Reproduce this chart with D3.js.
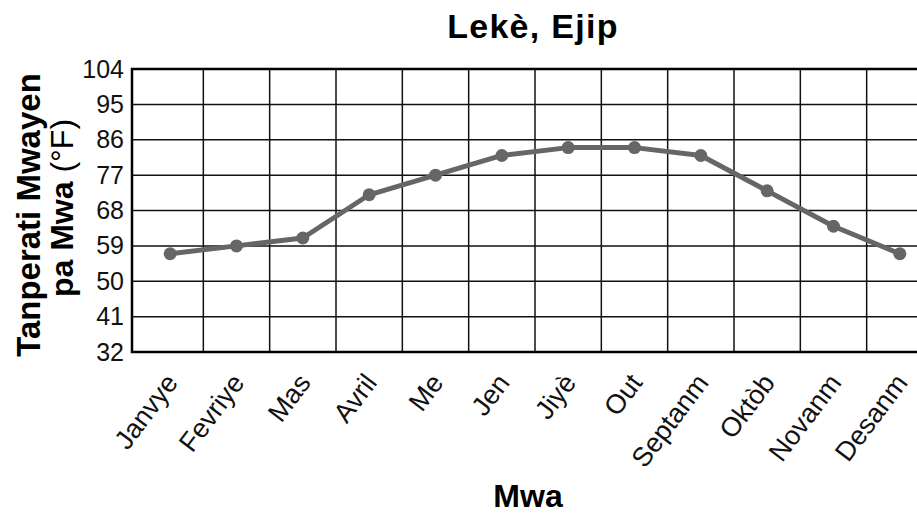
<!DOCTYPE html>
<html><head><meta charset="utf-8">
<script src="https://cdn.jsdelivr.net/npm/d3@7"></script>
<style>body{margin:0;background:#fff}svg{display:block}text{font-family:"Liberation Sans",Arial,Helvetica,sans-serif}</style>
</head><body>
<script>
const months = ["Janvye","Fevriye","Mas","Avril","Me","Jen","Jiyè","Out","Septanm","Oktòb","Novanm","Desanm"];
const temps = [57, 59, 61, 72, 77, 82, 84, 84, 82, 73, 64, 57];
const yTicks = [32, 41, 50, 59, 68, 77, 86, 95, 104];
const title = "Lekè, Ejip";
const xTitle = "Mwa";

const W = 917, H = 514;
const pL = 132, pR = 933, pT = 69, pB = 352;
const svg = d3.select("body").append("svg").attr("width", W).attr("height", H);

const x = d3.scaleBand().domain(months).range([137, 933]).paddingInner(0).paddingOuter(0);
const y = d3.scaleLinear().domain([32, 104]).range([pB, pT]);

// horizontal grid
svg.append("g").selectAll("line").data(yTicks).join("line")
  .attr("x1", pL).attr("x2", pR).attr("y1", d => y(d)).attr("y2", d => y(d))
  .attr("stroke", "#111").attr("stroke-width", 1.5);
// vertical grid
svg.append("g").selectAll("line").data(months.slice(1)).join("line")
  .attr("x1", d => x(d)).attr("x2", d => x(d)).attr("y1", pT).attr("y2", pB)
  .attr("stroke", "#111").attr("stroke-width", 1.5);
// frame
svg.append("rect").attr("x", pL).attr("y", pT).attr("width", pR - pL).attr("height", pB - pT)
  .attr("fill", "none").attr("stroke", "#000").attr("stroke-width", 2.5);

// y tick labels
const yAxis = d3.axisLeft(y).tickValues(yTicks).tickSize(0).tickPadding(8);
const gy = svg.append("g").attr("transform", `translate(${pL},0)`).call(yAxis);
gy.select(".domain").remove();
gy.selectAll("text").attr("font-size", 25).attr("fill", "#111")
  .style("font-family", '"Liberation Sans",Arial,sans-serif');

// x tick labels
const cx = d => x(d) + x.bandwidth() / 2;
svg.append("g").selectAll("text").data(months).join("text")
  .attr("transform", d => `translate(${cx(d) + 9},${pB + 31}) rotate(-53)`)
  .attr("text-anchor", "end")
  .attr("font-size", 27).attr("fill", "#111").text(d => d);

// line
const line = d3.line().x((d, i) => cx(months[i])).y(d => y(d));
svg.append("path").datum(temps).attr("d", line)
  .attr("fill", "none").attr("stroke", "#666").attr("stroke-width", 5).attr("stroke-linejoin", "round");
svg.append("g").selectAll("circle").data(temps).join("circle")
  .attr("cx", (d, i) => cx(months[i])).attr("cy", d => y(d)).attr("r", 6.5).attr("fill", "#666");

// title
svg.append("text").attr("x", 533).attr("y", 38).attr("text-anchor", "middle")
  .attr("font-size", 34).attr("font-weight", "bold").attr("letter-spacing", 1.3).attr("fill", "#000").text(title);
// x title
svg.append("text").attr("x", 528).attr("y", 507).attr("text-anchor", "middle")
  .attr("font-size", 32).attr("font-weight", "bold").attr("fill", "#000").text(xTitle);
// y title
svg.append("text").attr("transform", "translate(40,215) rotate(-90)").attr("text-anchor", "middle")
  .attr("font-size", 33).attr("font-weight", "bold").attr("fill", "#000").text("Tanperati Mwayen");
const t2 = svg.append("text").attr("transform", "translate(73,208) rotate(-90)").attr("text-anchor", "middle")
  .attr("font-size", 32).attr("fill", "#000");
t2.append("tspan").attr("font-weight", "bold").text("pa Mwa ");
t2.append("tspan").attr("font-weight", "normal").text("(°F)");
</script>
</body></html>
